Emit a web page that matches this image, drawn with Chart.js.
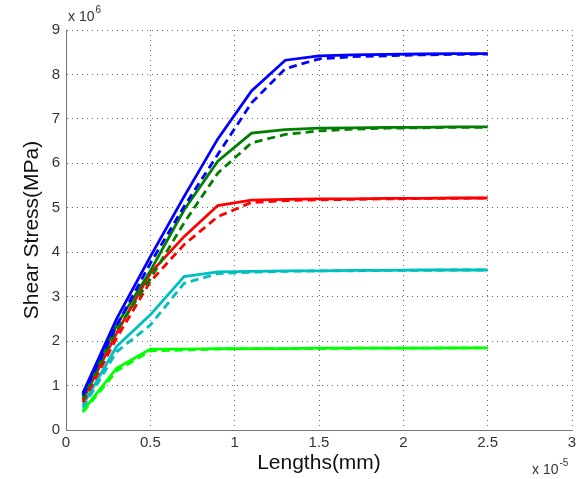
<!DOCTYPE html>
<html>
<head>
<meta charset="utf-8">
<script src="https://cdn.jsdelivr.net/npm/chart.js@4"></script>
<style>
  html, body { margin: 0; padding: 0; background: #fff; }
  #wrap { width: 588px; height: 479px; }
</style>
</head>
<body>
<div id="wrap"><canvas id="shear"></canvas></div>
<script>
// lengths, in units of 1e-5 mm
var lengths = [0.1, 0.3, 0.5, 0.7, 0.9, 1.1, 1.3, 1.5, 1.7, 1.9, 2.1, 2.3, 2.5];

// shear stress, in units of 1e6 MPa
var blueSolid   = [0.83, 2.5, 3.9, 5.25, 6.55, 7.63, 8.32, 8.42, 8.44, 8.45, 8.46, 8.47, 8.47];
var blueDashed  = [0.78, 2.35, 3.75, 5.03, 6.2, 7.36, 8.13, 8.35, 8.4, 8.42, 8.44, 8.45, 8.46];
var greenSolid  = [0.75, 2.36, 3.58, 4.95, 6.05, 6.68, 6.76, 6.79, 6.8, 6.81, 6.81, 6.82, 6.82];
var greenDashed = [0.7, 2.25, 3.4, 4.66, 5.78, 6.46, 6.65, 6.73, 6.77, 6.79, 6.8, 6.81, 6.81];
var redSolid    = [0.68, 2.18, 3.53, 4.35, 5.05, 5.17, 5.19, 5.2, 5.2, 5.21, 5.21, 5.22, 5.22];
var redDashed   = [0.62, 2.07, 3.34, 4.17, 4.8, 5.12, 5.16, 5.18, 5.19, 5.2, 5.21, 5.21, 5.22];
var cyanSolid   = [0.56, 1.88, 2.59, 3.45, 3.56, 3.57, 3.58, 3.58, 3.59, 3.59, 3.6, 3.6, 3.6];
var cyanDashed  = [0.5, 1.76, 2.36, 3.3, 3.52, 3.55, 3.57, 3.58, 3.58, 3.59, 3.59, 3.6, 3.6];
var limeSolid   = [0.43, 1.39, 1.82, 1.82, 1.83, 1.83, 1.83, 1.84, 1.84, 1.84, 1.84, 1.85, 1.85];
var limeDashed  = [0.4, 1.33, 1.78, 1.8, 1.82, 1.83, 1.83, 1.83, 1.84, 1.84, 1.84, 1.84, 1.85];

var xTicks = [0, 0.5, 1, 1.5, 2, 2.5, 3];

var FONT = "'Liberation Sans', Arial, sans-serif";

function pts(ys) {
  return lengths.map(function (x, i) { return { x: x, y: ys[i] }; });
}

function line(ys, color, dashed) {
  return {
    data: pts(ys),
    borderColor: color,
    borderWidth: 2.8,
    borderDash: dashed ? [8, 5] : [],
    pointRadius: 0,
    fill: false,
    tension: 0
  };
}

// "x 10^6" and "x 10^-5" exponent labels, MATLAB style
var exponentLabels = {
  id: "exponentLabels",
  afterDraw: function (chart) {
    var ctx = chart.ctx;
    var a = chart.chartArea;
    ctx.save();
    ctx.fillStyle = "#333";
    ctx.textBaseline = "alphabetic";
    ctx.textAlign = "left";
    ctx.font = "14px " + FONT;
    ctx.fillText("x 10", a.left + 2, a.top - 9);
    var w = ctx.measureText("x 10").width;
    ctx.font = "10px " + FONT;
    ctx.fillText("6", a.left + 3 + w, a.top - 17);

    ctx.font = "14px " + FONT;
    ctx.fillText("x 10", a.right - 40, a.bottom + 44);
    w = ctx.measureText("x 10").width;
    ctx.font = "10px " + FONT;
    ctx.fillText("-5", a.right - 39 + w, a.bottom + 36);
    ctx.restore();
  }
};

new Chart(document.getElementById("shear"), {
  type: "line",
  data: {
    datasets: [
      line(blueSolid, "#0000ff", false),
      line(blueDashed, "#0000ff", true),
      line(greenSolid, "#008000", false),
      line(greenDashed, "#008000", true),
      line(redSolid, "#ff0000", false),
      line(redDashed, "#ff0000", true),
      line(cyanSolid, "#00bfbf", false),
      line(cyanDashed, "#00bfbf", true),
      line(limeSolid, "#00ff00", false),
      line(limeDashed, "#00ff00", true)
    ]
  },
  options: {
    responsive: true,
    maintainAspectRatio: false,
    animation: false,
    layout: { padding: { left: 0, top: 30, right: 16, bottom: 0 } },
    plugins: {
      legend: { display: false },
      tooltip: { enabled: false }
    },
    scales: {
      x: {
        type: "linear",
        min: 0,
        max: 3,
        afterBuildTicks: function (scale) {
          scale.ticks = xTicks.map(function (v) { return { value: v }; });
        },
        afterFit: function (scale) { scale.height = 49; },
        grid: { color: "#666", lineWidth: 1, drawTicks: false },
        border: { display: true, color: "#777", width: 1, dash: [1, 4] },
        ticks: {
          color: "#333",
          padding: 4,
          font: { family: FONT, size: 15 },
          callback: function (v) { return String(v); }
        },
        title: {
          display: true,
          text: "Lengths(mm)",
          color: "#111",
          font: { family: FONT, size: 21 },
          padding: { top: 0, bottom: 3 }
        }
      },
      y: {
        type: "linear",
        min: 0,
        max: 9,
        afterFit: function (scale) { scale.width = 66; },
        grid: { color: "#666", lineWidth: 1, drawTicks: false },
        border: { display: true, color: "#777", width: 1, dash: [1, 4] },
        ticks: {
          stepSize: 1,
          color: "#333",
          padding: 6,
          font: { family: FONT, size: 15 }
        },
        title: {
          display: true,
          text: "Shear Stress(MPa)",
          color: "#111",
          font: { family: FONT, size: 21 },
          padding: { top: 20, bottom: 0 }
        }
      }
    }
  },
  plugins: [exponentLabels]
});
</script>
</body>
</html>
